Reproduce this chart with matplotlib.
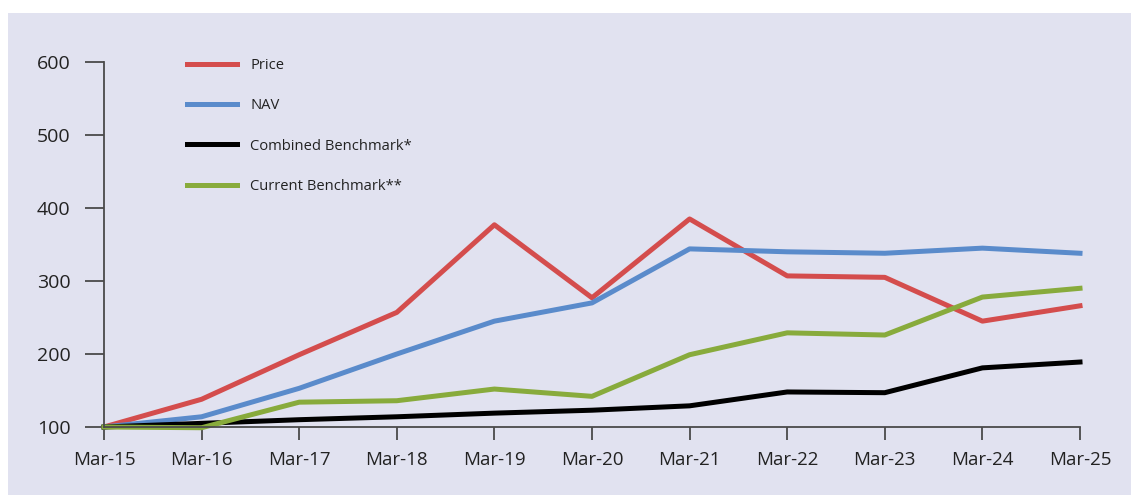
import matplotlib.pyplot as plt
from matplotlib.patches import Rectangle

# =========================
# DATA
# =========================
years = ["Mar-15", "Mar-16", "Mar-17", "Mar-18", "Mar-19", "Mar-20",
         "Mar-21", "Mar-22", "Mar-23", "Mar-24", "Mar-25"]

price = [100, 138, 199, 257, 377, 277, 385, 307, 305, 245, 266]
nav = [100, 114, 153, 200, 245, 270, 344, 340, 338, 345, 338]
combined = [100, 105, 110, 114, 119, 123, 129, 148, 147, 181, 189]
current = [100, 99, 134, 136, 152, 142, 199, 229, 226, 278, 290]

y_ticks = [100, 200, 300, 400, 500, 600]

# =========================
# STYLE
# =========================
BG = "#e1e2f0"
AXIS = "#4a4a4a"
plt.rcParams["font.family"] = ["Open Sans", "DejaVu Sans"]

fig = plt.figure(figsize=(11.31, 4.95), dpi=100, facecolor="white")
fig.patches.append(Rectangle((8 / 1131, 0), 1, (495 - 13) / 495,
                             transform=fig.transFigure, facecolor=BG,
                             edgecolor="none", zorder=-10))

ax = fig.add_axes([104 / 1131, 68 / 495, (1080 - 104) / 1131, (427 - 62) / 495])
ax.set_facecolor("none")

x = list(range(len(years)))
lw = 3.6
ax.plot(x, price, color="#d44d4d", lw=lw, label="Price", clip_on=False)
ax.plot(x, nav, color="#5a8bcb", lw=lw, label="NAV", clip_on=False)
ax.plot(x, combined, color="#000000", lw=lw, label="Combined Benchmark*", clip_on=False)
ax.plot(x, current, color="#88ab3c", lw=lw, label="Current Benchmark**", clip_on=False)

ax.set_xlim(0, len(years) - 1)
ax.set_ylim(100, 600)
ax.set_xticks(x)
ax.set_xticklabels(years)
ax.set_yticks(y_ticks)

for s in ["top", "right"]:
    ax.spines[s].set_visible(False)
for s in ["left", "bottom"]:
    ax.spines[s].set_color(AXIS)
    ax.spines[s].set_linewidth(1.3)

ax.tick_params(axis="y", length=14, width=1.3, color=AXIS, pad=10,
               labelsize=14, labelcolor="#222222")
ax.tick_params(axis="x", length=9.5, width=1.3, color=AXIS, pad=7.5,
               labelsize=13.5, labelcolor="#222222")

leg = ax.legend(loc="upper left", bbox_to_anchor=(187 / 1131, (495 - 58) / 495),
                bbox_transform=fig.transFigure, frameon=False, fontsize=10.6,
                handlelength=3.4, handletextpad=0.9, labelspacing=1.72,
                borderpad=0, borderaxespad=0)
for t in leg.get_texts():
    t.set_color("#222222")

fig.savefig("out.png", dpi=100, facecolor="white")
